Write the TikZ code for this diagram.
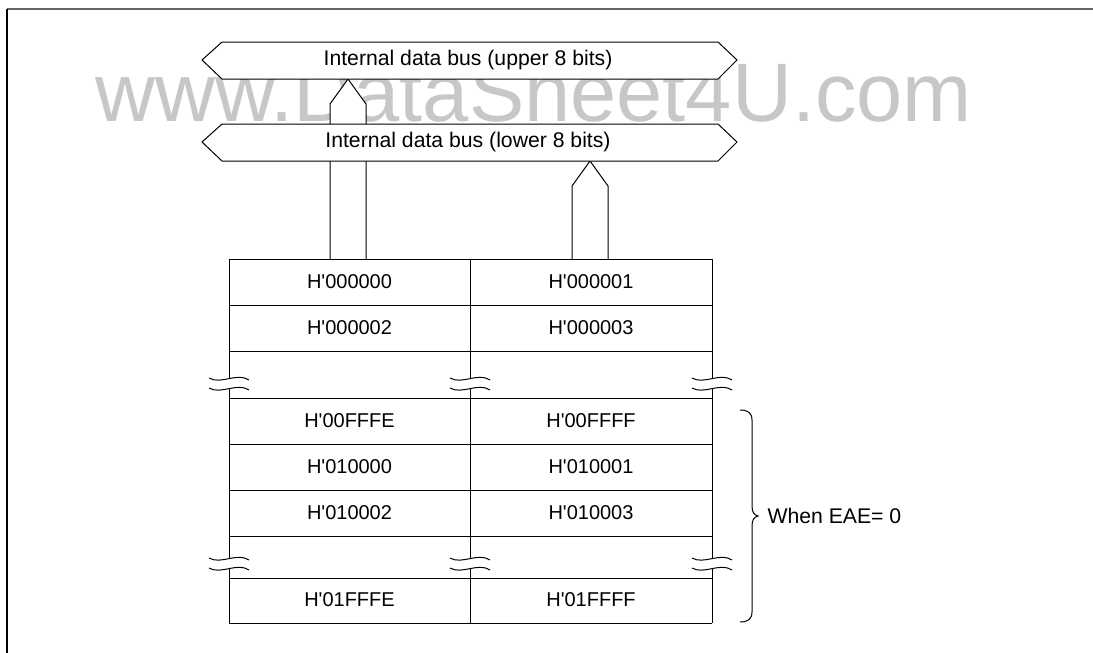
\documentclass[tikz,border=0pt]{standalone}
\usepackage{fontspec}
\setmainfont{Liberation Sans}
\begin{document}
\begin{tikzpicture}[x=1pt,y=-1pt,line width=1pt,
  lbl/.style={font=\fontsize{20}{24}\selectfont, inner sep=0pt},
  buslbl/.style={font=\fontsize{21.2}{25}\selectfont, inner sep=0pt},
  busshape/.style={draw, fill=white, line width=1pt, line join=miter},
  blockarrow/.style={draw, fill=white, line width=1pt, line join=miter},
  gridline/.style={line width=1pt},
  wavy/.style={line width=1pt},
]
\useasboundingbox (0,0) rectangle (1093,653);
% frame
\draw[black!60, line width=1.6pt] (7,9) -- (1093,9);
\draw[line width=1.2pt] (7,9) -- (7,653);
% watermark
\node[anchor=base west, text=black!22, font=\fontsize{83}{90}\selectfont, inner sep=0pt] (wm) at (95,121) {www.DataSheet4U.com};
% block arrows
\coordinate (uatip) at (348,79);
\coordinate (latip) at (590,161);
\draw[blockarrow] (330,259) -- (330,104) -- (uatip) -- (366,104) -- (366,259);
\draw[blockarrow] (572,259) -- (572,186) -- (latip) -- (608,186) -- (608,259);
% buses
\draw[busshape] (202,60) -- (222,42) -- (718,42) -- (737,60) -- (718,79) -- (222,79) -- cycle;
\draw[busshape] (202,142) -- (222,124) -- (718,124) -- (737,142) -- (718,161) -- (222,161) -- cycle;
\node[buslbl] (ub) at (468,60) {Internal data bus (upper 8 bits)};
\node[buslbl] (lb) at (468,142) {Internal data bus (lower 8 bits)};
% table horizontal lines
\foreach \yy in {259,305,351,398,444,490,536,578,623}
  \draw[gridline] (229,\yy) -- (712,\yy);
% table vertical lines
\foreach \xx in {229,470,712}{
  \draw[gridline] (\xx,259) -- (\xx,379);
  \draw[gridline] (\xx,389) -- (\xx,559);
  \draw[gridline] (\xx,569) -- (\xx,623);
  \foreach \yy in {379,389,559,569}
    \draw[wavy] (\xx-20,\yy-1) .. controls (\xx-8,\yy+6) and (\xx+8,\yy-7) .. (\xx+20,\yy+1);
}
% cells
\node[lbl] (c1) at (349.5,282) {H\textquotesingle000000};
\node[lbl] (c2) at (591,282) {H\textquotesingle000001};
\node[lbl] (c3) at (349.5,328) {H\textquotesingle000002};
\node[lbl] (c4) at (591,328) {H\textquotesingle000003};
\node[lbl] (c5) at (349.5,421) {H\textquotesingle00FFFE};
\node[lbl] (c6) at (591,421) {H\textquotesingle00FFFF};
\node[lbl] (c7) at (349.5,467) {H\textquotesingle010000};
\node[lbl] (c8) at (591,467) {H\textquotesingle010001};
\node[lbl] (c9) at (349.5,513) {H\textquotesingle010002};
\node[lbl] (c10) at (591,513) {H\textquotesingle010003};
\node[lbl] (c11) at (349.5,600) {H\textquotesingle01FFFE};
\node[lbl] (c12) at (591,600) {H\textquotesingle01FFFF};
% brace
\coordinate (btip) at (758,516);
\draw (740,410) .. controls (748,410) and (752,413) .. (752,420) -- (752,506)
  .. controls (752,512) and (754,515) .. (btip)
  .. controls (754,517) and (752,520) .. (752,526) -- (752,612)
  .. controls (752,619) and (748,622) .. (740,622);
\node[buslbl, anchor=west] (eae) at (767,516) {When EAE= 0};
\end{tikzpicture}
\end{document}
